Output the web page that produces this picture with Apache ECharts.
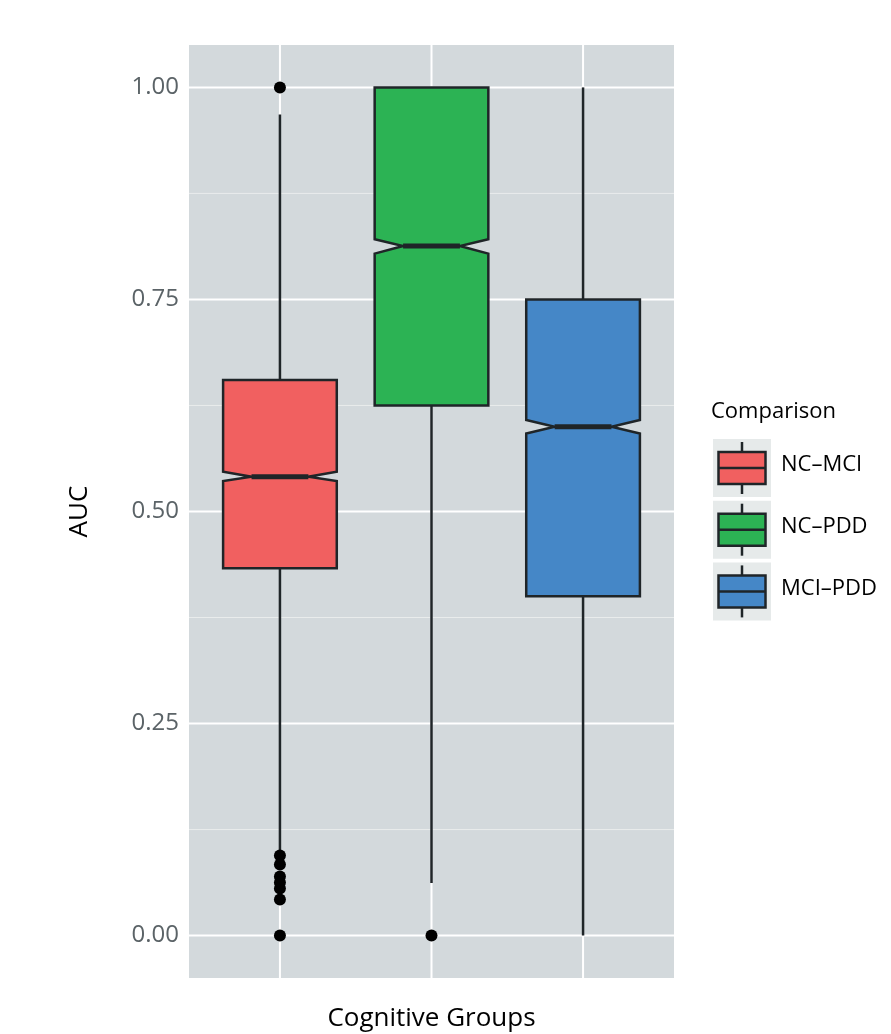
<!DOCTYPE html>
<html>
<head>
<meta charset="utf-8">
<script src="https://cdn.jsdelivr.net/npm/echarts@6/dist/echarts.min.js"></script>
<style>
html, body { margin: 0; padding: 0; background: #fff; }
#main { width: 891px; height: 1034px; }
</style>
</head>
<body>
<div id="main"></div>
<script>
// groups on the x axis (positions 1, 2, 3)
var categories = ['NC\u2013MCI', 'NC\u2013PDD', 'MCI\u2013PDD'];
var colors = ['#f16060', '#2cb354', '#4587c7'];

// box statistics, one value per group
var lowerWhisker = [0.098, 0.062, 0.000];
var q1 = [0.433, 0.625, 0.400];
var notchLow = [0.536, 0.804, 0.592];
var median = [0.541, 0.813, 0.600];
var notchHigh = [0.547, 0.821, 0.608];
var q3 = [0.655, 1.000, 0.750];
var upperWhisker = [0.968, 1.000, 1.000];

// outliers [group, AUC]
var outliers = [
    [1, 1.000], [1, 0.0945], [1, 0.0838], [1, 0.0697], [1, 0.0626],
    [1, 0.0555], [1, 0.0425], [1, 0.000],
    [2, 0.000]
];

// axis ticks / grid lines
var yTicks = [0, 0.25, 0.5, 0.75, 1];
var yMinor = [0.125, 0.375, 0.625, 0.875];
var xTicks = [1, 2, 3];

var FONT = 'Open Sans';
var INK = '#1f2528';

var boxData = [];
for (var i = 0; i < categories.length; i++) {
    boxData.push([i + 1, lowerWhisker[i], q1[i], notchLow[i], median[i], notchHigh[i], q3[i], upperWhisker[i]]);
}

var gridData = [];
yTicks.forEach(function (v) { gridData.push(['h', v, 2, '#ffffff']); });
yMinor.forEach(function (v) { gridData.push(['h', v, 1, '#e9ecec']); });
xTicks.forEach(function (v) { gridData.push(['v', v, 2, '#ffffff']); });

function renderGrid(params, api) {
    var cs = params.coordSys;
    var d = gridData[params.dataIndex];
    var shape;
    if (d[0] == 'h') {
        var y = api.coord([1, d[1]])[1];
        shape = { x1: cs.x, y1: y, x2: cs.x + cs.width, y2: y };
    } else {
        var x = api.coord([d[1], 0])[0];
        shape = { x1: x, y1: cs.y, x2: x, y2: cs.y + cs.height };
    }
    return {
        type: 'line',
        shape: shape,
        style: { stroke: d[3], lineWidth: d[2] }
    };
}

var halfBox = 0.375; // box width 0.75 of the category step

function renderBox(params, api) {
    var x = api.value(0);
    var idx = params.dataIndex;
    var left = api.coord([x - halfBox, 0])[0];
    var right = api.coord([x + halfBox, 0])[0];
    var cx = api.coord([x, 0])[0];
    var inL = api.coord([x - halfBox / 2, 0])[0];
    var inR = api.coord([x + halfBox / 2, 0])[0];
    var yLw = api.coord([x, api.value(1)])[1];
    var yQ1 = api.coord([x, api.value(2)])[1];
    var yNl = api.coord([x, api.value(3)])[1];
    var yMd = api.coord([x, api.value(4)])[1];
    var yNh = api.coord([x, api.value(5)])[1];
    var yQ3 = api.coord([x, api.value(6)])[1];
    var yUw = api.coord([x, api.value(7)])[1];
    var lineStyle = { stroke: INK, lineWidth: 2.5 };
    return {
        type: 'group',
        children: [
            { type: 'line', shape: { x1: cx, y1: yLw, x2: cx, y2: yQ1 }, style: lineStyle },
            { type: 'line', shape: { x1: cx, y1: yQ3, x2: cx, y2: yUw }, style: lineStyle },
            {
                type: 'polygon',
                shape: {
                    points: [
                        [left, yQ3], [left, yNh], [inL, yMd], [left, yNl], [left, yQ1],
                        [right, yQ1], [right, yNl], [inR, yMd], [right, yNh], [right, yQ3]
                    ]
                },
                style: { fill: colors[idx], stroke: INK, lineWidth: 2.5, lineJoin: 'miter' }
            },
            { type: 'line', shape: { x1: inL, y1: yMd, x2: inR, y2: yMd }, style: { stroke: INK, lineWidth: 5 } }
        ]
    };
}

// legend drawn by hand: grey key with a small box glyph
var legendItems = [];
legendItems.push({
    type: 'text', left: 711, top: 401,
    style: { text: 'Comparison', font: '22px "' + FONT + '"', fill: '#000' }
});
for (var k = 0; k < categories.length; k++) {
    var ky = 439 + k * 61.7;
    legendItems.push({ type: 'rect', shape: { x: 713, y: ky, width: 58, height: 58 }, style: { fill: '#e6eaea' } });
    legendItems.push({ type: 'line', shape: { x1: 742, y1: ky + 3, x2: 742, y2: ky + 55 }, style: { stroke: INK, lineWidth: 2.5 } });
    legendItems.push({ type: 'rect', shape: { x: 718.5, y: ky + 13, width: 47, height: 32 }, style: { fill: colors[k], stroke: INK, lineWidth: 2.5 } });
    legendItems.push({ type: 'line', shape: { x1: 718.5, y1: ky + 29, x2: 765.5, y2: ky + 29 }, style: { stroke: INK, lineWidth: 2.5 } });
    legendItems.push({
        type: 'text', left: 781, top: ky + 15,
        style: { text: categories[k], font: '22px "' + FONT + '"', fill: '#000' }
    });
}

var myChart = echarts.init(document.getElementById('main'));
var option = {
    backgroundColor: '#ffffff',
    animation: false,
    grid: {
        left: 189, right: 217, top: 45, bottom: 56,
        containLabel: false, outerBoundsMode: 'none',
        show: true, backgroundColor: '#d3d9dc', borderWidth: 0
    },
    xAxis: {
        type: 'value', min: 0.4, max: 3.6,
        name: 'Cognitive Groups', nameLocation: 'middle', nameGap: 28,
        nameTextStyle: { fontFamily: FONT, fontSize: 26, color: '#000' },
        axisLine: { show: false }, axisTick: { show: false },
        axisLabel: { show: false }, splitLine: { show: false }
    },
    yAxis: {
        type: 'value', min: -0.05, max: 1.05,
        name: 'AUC', nameLocation: 'middle', nameGap: 96, nameRotate: 90,
        nameTextStyle: { fontFamily: FONT, fontSize: 26, color: '#000' },
        axisLine: { show: false }, axisTick: { show: false },
        splitLine: { show: false },
        axisLabel: {
            customValues: yTicks, margin: 10,
            fontFamily: FONT, fontSize: 24, color: '#5b6367',
            formatter: function (v) { return v.toFixed(2); }
        }
    },
    graphic: legendItems,
    series: [
        {
            type: 'custom', silent: true, z: 1,
            renderItem: renderGrid,
            data: gridData.map(function (d) { return [d[1]]; })
        },
        {
            type: 'custom', z: 2,
            renderItem: renderBox,
            encode: { x: 0, y: [1, 2, 3, 4, 5, 6, 7] },
            data: boxData
        },
        {
            type: 'scatter', z: 3,
            symbol: 'circle', symbolSize: 12,
            itemStyle: { color: '#000', opacity: 1 },
            data: outliers
        }
    ]
};
myChart.setOption(option);
</script>
</body>
</html>
